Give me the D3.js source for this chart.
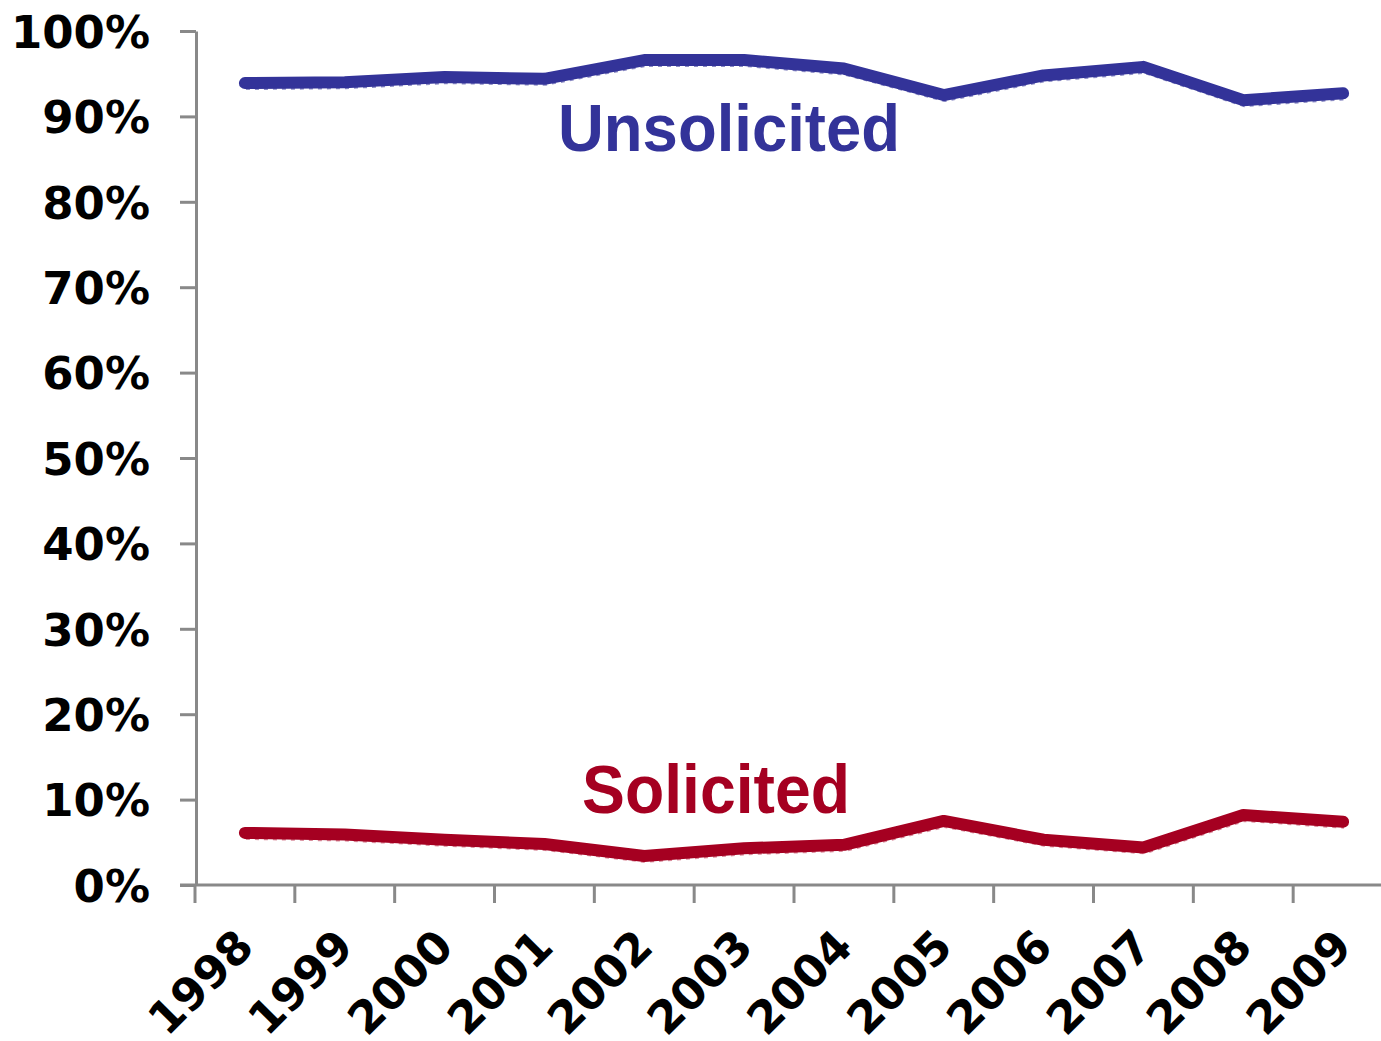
<!DOCTYPE html>
<html>
<head>
<meta charset="utf-8">
<script src="https://cdn.jsdelivr.net/npm/d3@7"></script>
<style>
  html, body { margin: 0; padding: 0; background: #fff; }
  svg { display: block; }
</style>
</head>
<body>
<svg id="chart" width="1381" height="1041"></svg>
<script>
const years = ["1998","1999","2000","2001","2002","2003","2004","2005","2006","2007","2008","2009"];
const unsolicited = [93.9, 94.0, 94.6, 94.4, 96.6, 96.6, 95.6, 92.5, 94.8, 95.8, 91.9, 92.7];
const solicited = [6.1, 5.9, 5.3, 4.8, 3.4, 4.3, 4.7, 7.5, 5.3, 4.4, 8.2, 7.4];
const yTicks = [0, 10, 20, 30, 40, 50, 60, 70, 80, 90, 100];
const seriesNames = ["Unsolicited", "Solicited"];

const svg = d3.select("#chart");
const axisColor = "#898989";
const tickFont = "'DejaVu Sans', Verdana, sans-serif";
const labelFont = "'Liberation Sans', Arial, sans-serif";

const x = d3.scaleBand().domain(years).range([195, 1393]);
const y = d3.scaleLinear().domain([0, 100]).range([885, 31]);

// Y axis
const yAxis = svg.append("g").attr("transform", "translate(196,0)")
  .call(d3.axisLeft(y).tickValues(yTicks).tickSize(16).tickSizeOuter(0).tickFormat(d => d + "%"));
yAxis.select(".domain").attr("stroke", axisColor).attr("stroke-width", 3);
yAxis.selectAll(".tick line").attr("stroke", axisColor).attr("stroke-width", 3);
yAxis.selectAll(".tick text")
  .attr("x", -46).attr("dy", "0.36em")
  .attr("fill", "#000")
  .style("font-family", tickFont).style("font-weight", "bold").style("font-size", "45px");

// X axis
const xAxis = svg.append("g").attr("transform", "translate(0,885)")
  .call(d3.axisBottom(x).tickSize(0).tickSizeOuter(0));
xAxis.select(".domain").remove();
xAxis.append("line").attr("x1", 180).attr("x2", 1381).attr("y1", 0).attr("y2", 0)
  .attr("stroke", axisColor).attr("stroke-width", 3);
const boundaries = years.map(d => x(d)).concat([x(years[years.length - 1]) + x.bandwidth()]);
xAxis.selectAll(".bnd").data(boundaries).enter().append("line")
  .attr("class", "bnd")
  .attr("x1", d => d).attr("x2", d => d).attr("y1", 0).attr("y2", 18)
  .attr("stroke", axisColor).attr("stroke-width", 3);
xAxis.selectAll(".tick text")
  .attr("text-anchor", "end")
  .attr("transform", "translate(11,64) rotate(-45)")
  .attr("x", 0).attr("y", 0).attr("dy", 0)
  .attr("fill", "#000")
  .style("font-family", tickFont).style("font-weight", "bold").style("font-size", "45px");

// Lines
const line = d3.line().x((d, i) => x(years[i]) + x.bandwidth() / 2).y(d => y(d));
const series = [
  { name: seriesNames[0], values: unsolicited, color: "#333399", shadow: "#8c8cc4" },
  { name: seriesNames[1], values: solicited, color: "#A50021", shadow: "#d98c9c" }
];
series.forEach(s => {
  svg.append("path").datum(s.values)
    .attr("d", line).attr("fill", "none")
    .attr("transform", "translate(1,4)")
    .attr("stroke", s.shadow).attr("stroke-width", 6)
    .attr("stroke-dasharray", "4,5").attr("stroke-linejoin", "round");
  svg.append("path").datum(s.values)
    .attr("d", line).attr("fill", "none")
    .attr("stroke", s.color).attr("stroke-width", 12)
    .attr("stroke-linejoin", "round").attr("stroke-linecap", "round");
});

// Series labels
svg.append("text").text(seriesNames[0])
  .attr("x", 558).attr("y", 151)
  .attr("textLength", 342).attr("lengthAdjust", "spacingAndGlyphs")
  .attr("fill", "#333399")
  .style("font-family", labelFont).style("font-weight", "bold").style("font-size", "67px");
svg.append("text").text(seriesNames[1])
  .attr("x", 582).attr("y", 813)
  .attr("textLength", 268).attr("lengthAdjust", "spacingAndGlyphs")
  .attr("fill", "#A50021")
  .style("font-family", labelFont).style("font-weight", "bold").style("font-size", "68px");
</script>
</body>
</html>
